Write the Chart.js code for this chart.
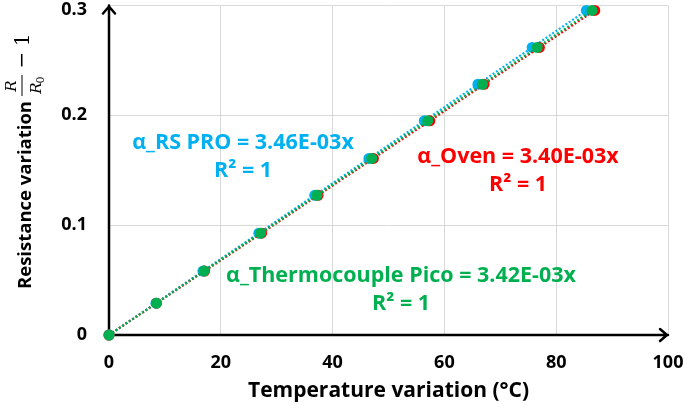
<!DOCTYPE html>
<html>
<head>
<meta charset="utf-8">
<script src="https://cdn.jsdelivr.net/npm/chart.js@4/dist/chart.umd.min.js"></script>
<style>
html, body { margin: 0; padding: 0; background: #fff; }
#wrap { width: 685px; height: 404px; }
</style>
</head>
<body>
<div id="wrap"><canvas id="chart" width="685" height="404"></canvas></div>
<script>
// resistance variation R/R0 - 1, same for the three sensors
var resistanceVar = [0, 0.0290, 0.0582, 0.0927, 0.1272, 0.1608, 0.1950, 0.2283, 0.2618, 0.2955];
// temperature variation seen by each sensor (°C)
var tempRsPro = [0, 8.4, 16.8, 26.8, 36.8, 46.5, 56.4, 66.0, 75.7, 85.4];
var tempOven = [0, 8.5, 17.1, 27.3, 37.4, 47.3, 57.4, 67.1, 77.0, 86.9];
var tempPico = [0, 8.5, 17.0, 27.1, 37.2, 47.0, 57.0, 66.8, 76.6, 86.4];

var seriesNames = ['α_RS PRO', 'α_Oven', 'α_Thermocouple Pico'];
var slopes = ['3.46E-03', '3.40E-03', '3.42E-03'];
var rSquared = ['1', '1', '1'];
var colors = ['#00B0F0', '#FF0000', '#00B050'];

var xTicks = [0, 20, 40, 60, 80, 100];
var yTicks = [0, 0.1, 0.2, 0.3];
var yTickLabels = ['0', '0.1', '0.2', '0.3'];

var FONT = '"Open Sans"';

function toPoints(xs) {
    return xs.map(function(x, i) {
        return { x: x, y: resistanceVar[i] };
    });
}

function makeSet(i, xs, order) {
    return {
        label: seriesNames[i],
        data: toPoints(xs),
        backgroundColor: colors[i],
        borderColor: colors[i],
        showLine: true,
        borderDash: [2, 2],
        borderWidth: 2.2,
        pointRadius: 5.5,
        pointBorderWidth: 0,
        tension: 0,
        clip: false,
        order: order
    };
}

// arrow axes under the points, then labels and trendline equations on top
var extras = {
    id: 'extras',
    beforeDatasetsDraw: function(chart) {
        var ctx = chart.ctx;
        var left = chart.scales.x.left, right = chart.scales.x.right;
        var top = chart.scales.y.top, bottom = chart.scales.y.bottom;

        ctx.save();
        ctx.strokeStyle = '#000';
        ctx.lineWidth = 2.5;
        ctx.lineCap = 'round';
        ctx.lineJoin = 'round';
        ctx.beginPath();
        ctx.moveTo(left, bottom);
        ctx.lineTo(left, top);
        ctx.moveTo(left - 6, top + 8);
        ctx.lineTo(left, top + 1);
        ctx.lineTo(left + 6, top + 8);
        ctx.moveTo(left, bottom);
        ctx.lineTo(right, bottom);
        ctx.moveTo(right - 8, bottom - 6);
        ctx.lineTo(right - 1, bottom);
        ctx.lineTo(right - 8, bottom + 6);
        ctx.stroke();
        ctx.restore();
    },
    afterDraw: function(chart) {
        var ctx = chart.ctx;
        var ys = chart.scales.y;
        var left = chart.scales.x.left;

        ctx.save();
        // y tick labels
        ctx.fillStyle = '#000';
        ctx.strokeStyle = '#000';
        ctx.font = 'bold 18px ' + FONT;
        ctx.textAlign = 'right';
        ctx.textBaseline = 'middle';
        yTicks.forEach(function(v, i) {
            var py = Math.max(ys.getPixelForValue(v), 10);
            ctx.fillText(yTickLabels[i], left - 22, py);
        });

        // y title
        ctx.save();
        ctx.translate(25, 0);
        ctx.rotate(-Math.PI / 2);
        ctx.font = 'bold 18.5px ' + FONT;
        ctx.textAlign = 'left';
        ctx.textBaseline = 'middle';
        ctx.fillText('Resistance variation', -289, 1);
        ctx.font = 'italic 15px "DejaVu Serif"';
        ctx.textAlign = 'center';
        ctx.textBaseline = 'alphabetic';
        ctx.fillText('R', -86, -9);
        ctx.fillText('R', -88, 16);
        ctx.font = '11px "DejaVu Serif"';
        ctx.fillText('0', -80, 19);
        ctx.lineWidth = 1;
        ctx.beginPath();
        ctx.moveTo(-96, -3);
        ctx.lineTo(-75, -3);
        ctx.stroke();
        ctx.font = '20px "DejaVu Serif"';
        ctx.textBaseline = 'middle';
        ctx.fillText('−', -60, -2);
        ctx.fillText('1', -40, -1);
        ctx.restore();

        // equations
        var labelPos = [[243, 143], [518, 157], [401, 276]];
        ctx.font = 'bold 21.5px ' + FONT;
        ctx.textAlign = 'center';
        ctx.textBaseline = 'middle';
        labelPos.forEach(function(p, i) {
            ctx.fillStyle = colors[i];
            ctx.fillText(seriesNames[i] + ' = ' + slopes[i] + 'x', p[0], p[1]);
            ctx.fillText('R² = ' + rSquared[i], p[0], p[1] + 28);
        });
        ctx.restore();
    }
};

var ctx = document.getElementById('chart').getContext('2d');
var chart = new Chart(ctx, {
    type: 'scatter',
    data: {
        datasets: [
            makeSet(0, tempRsPro, 3),
            makeSet(1, tempOven, 2),
            makeSet(2, tempPico, 1)
        ]
    },
    options: {
        responsive: false,
        animation: false,
        layout: { padding: { top: 1, right: 17, left: 0, bottom: 0 } },
        plugins: {
            legend: { display: false },
            tooltip: { enabled: false }
        },
        scales: {
            x: {
                type: 'linear',
                min: 0,
                max: 100,
                afterBuildTicks: function(scale) {
                    scale.ticks = xTicks.map(function(v) { return { value: v }; });
                },
                grid: { color: '#d9d9d9', lineWidth: 1, drawTicks: false },
                border: { display: false },
                ticks: {
                    color: '#000',
                    padding: 17,
                    maxRotation: 0,
                    font: { family: FONT, weight: 'bold', size: 18 }
                },
                title: {
                    display: true,
                    text: 'Temperature variation (°C)',
                    color: '#000',
                    font: { family: FONT, weight: 'bold', size: 21 },
                    padding: { top: 2, bottom: 0 }
                },
                afterFit: function(scale) {
                    scale.height = 69;
                    scale.paddingLeft = 0;
                    scale.paddingRight = 0;
                }
            },
            y: {
                type: 'linear',
                min: 0,
                max: 0.3,
                afterBuildTicks: function(scale) {
                    scale.ticks = yTicks.map(function(v) { return { value: v }; });
                },
                grid: { color: '#d9d9d9', lineWidth: 1, drawTicks: false },
                border: { display: false },
                ticks: { display: false },
                afterFit: function(scale) { scale.width = 109; }
            }
        }
    },
    plugins: [extras]
});
</script>
</body>
</html>
